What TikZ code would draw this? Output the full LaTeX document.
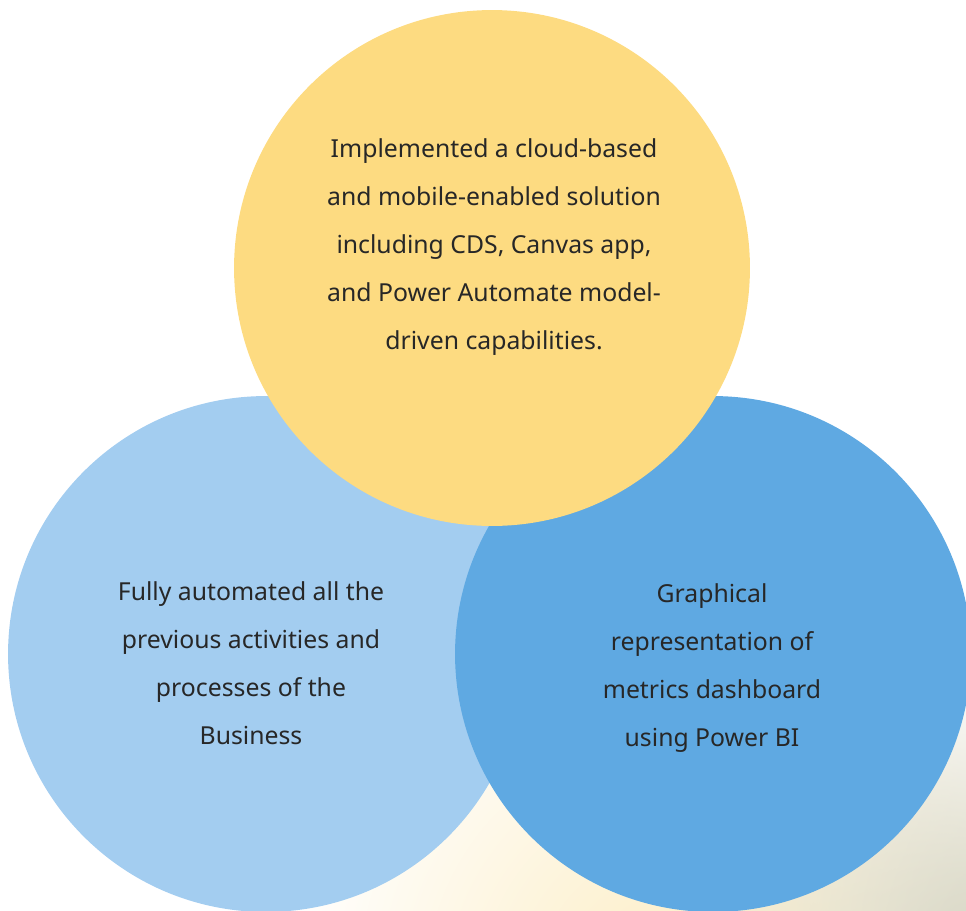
\documentclass[tikz,border=0pt]{standalone}
\usepackage{fontspec}
\setmainfont{Noto Sans}
\usetikzlibrary{fadings}
\definecolor{sunyellow}{HTML}{FDDB81}
\definecolor{paleblue}{HTML}{A3CDF0}
\definecolor{midblue}{HTML}{5FA9E2}
\definecolor{inkgray}{HTML}{272727}
\definecolor{creamglow}{HTML}{FCEDC4}
\definecolor{sandglow}{HTML}{D6D5C3}
\tikzfading[name=softglow, inner color=transparent!0, outer color=transparent!100]
\begin{document}
\begin{tikzpicture}[x=0.02cm,y=-0.02cm,
  bubble/.style={circle,minimum size=10.32cm,inner sep=0pt,draw=none},
  blurb/.style={align=center,text=inkgray,font=\fontsize{14.1}{27.3}\selectfont}]
\useasboundingbox (0,0) rectangle (966,910);
\clip (0,0) rectangle (966,910);
% faint glow along the bottom
\fill[creamglow,path fading=softglow] (680,990) circle (8cm);
\fill[sandglow,path fading=softglow] (990,950) circle (6cm);
% the three circles
\node[bubble,fill=paleblue] (business) at (266,654) {};
\node[bubble,fill=midblue] (metrics) at (713,654) {};
\node[bubble,fill=sunyellow] (cloud) at (492,268) {};
% texts
\node[blurb] (cloudText) at (494,247) {Implemented a cloud-based\\and mobile-enabled solution\\including CDS, Canvas app,\\and Power Automate model-\\driven capabilities.};
\node[blurb] (businessText) at (251,663) {Fully automated all the\\previous activities and\\processes of the\\Business};
\node[blurb] (metricsText) at (712,668) {Graphical\\representation of\\metrics dashboard\\using Power BI};
\end{tikzpicture}
\end{document}
